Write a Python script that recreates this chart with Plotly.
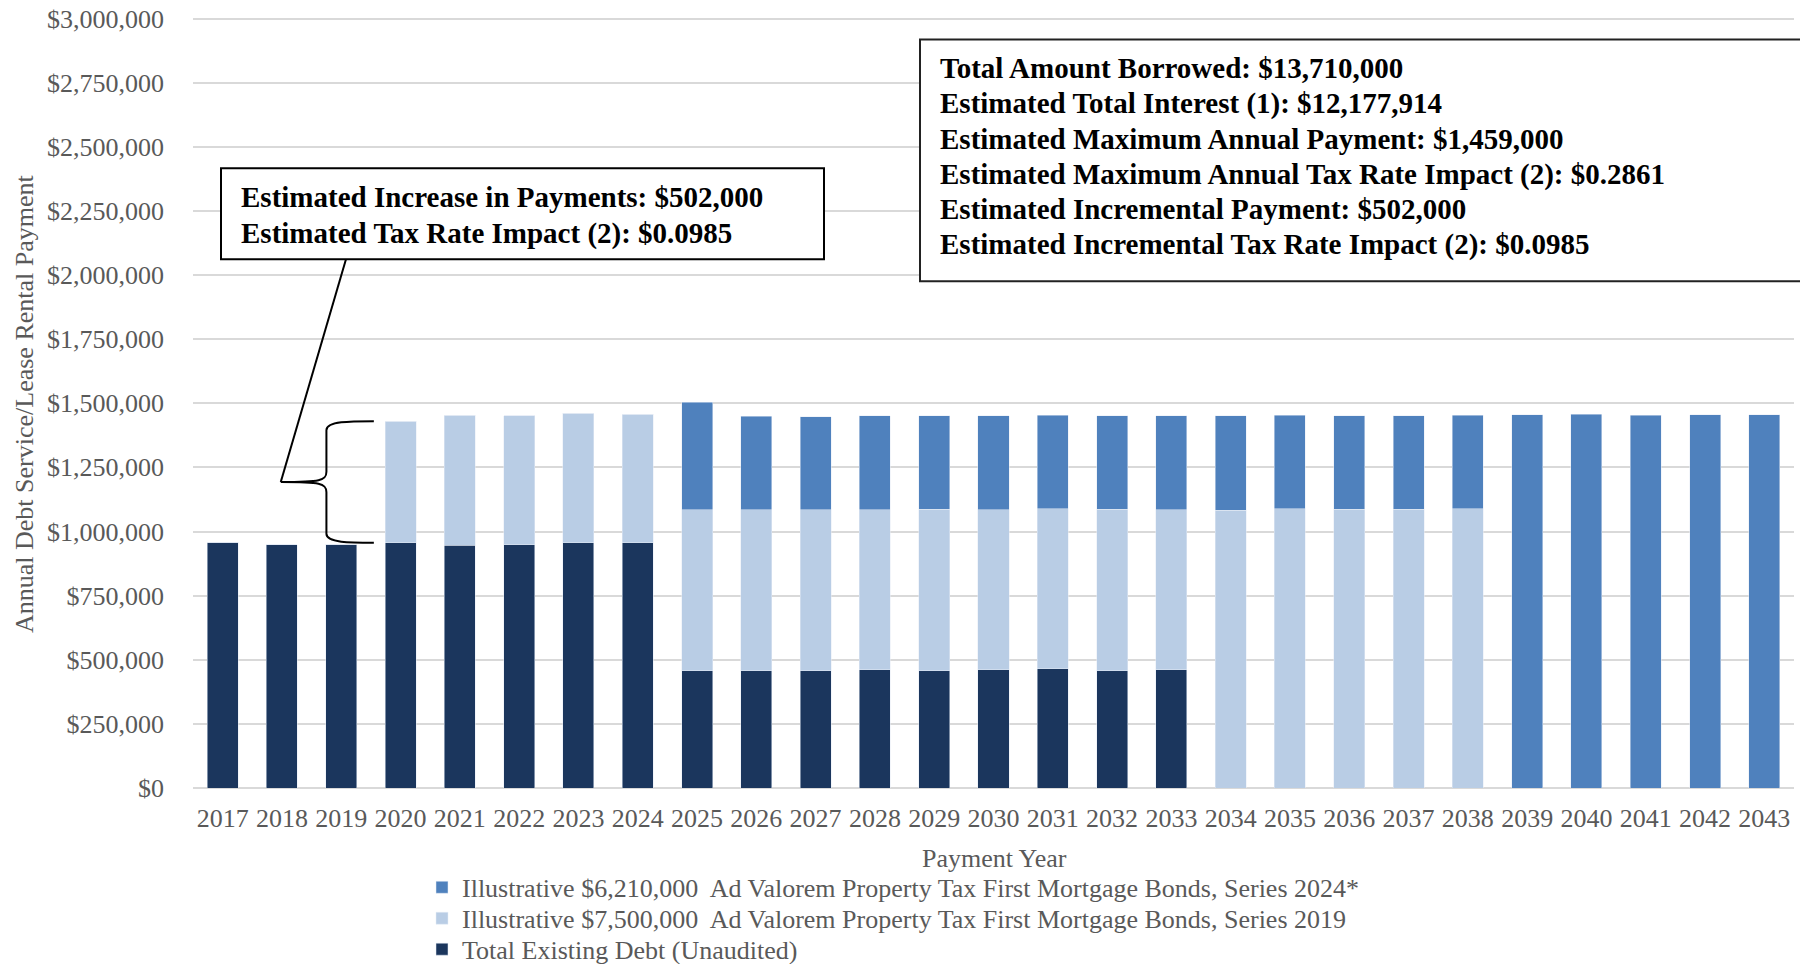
import plotly.graph_objects as go

years = list(range(2017, 2044))
tick_labels = [str(y) for y in years]

existing_debt = [958000, 949000, 950000, 956000, 947000, 948000, 956000, 956000,
                 457000, 457000, 457000, 461000, 458000, 461000, 465000, 458000, 461000,
                 0, 0, 0, 0, 0, 0, 0, 0, 0, 0]
series_2019 = [0, 0, 0, 474000, 507000, 503000, 505000, 501000,
               627000, 628000, 628000, 624000, 628000, 624000, 623000, 628000, 624000,
               1083000, 1088000, 1086000, 1086000, 1088000, 0, 0, 0, 0, 0]
series_2024 = [0, 0, 0, 0, 0, 0, 0, 0,
               420000, 364000, 363000, 366000, 366000, 366000, 365000, 366000, 366000,
               368000, 365000, 366000, 366000, 365000, 1456000, 1457000, 1454000, 1456000, 1456000]

name_existing = "Total Existing Debt (Unaudited)"
name_2019 = "Illustrative $7,500,000  Ad Valorem Property Tax First Mortgage Bonds, Series 2019"
name_2024 = "Illustrative $6,210,000  Ad Valorem Property Tax First Mortgage Bonds, Series 2024*"

left_box_lines = ["Estimated Increase in Payments: $502,000",
                  "Estimated Tax Rate Impact (2): $0.0985"]
right_box_lines = ["Total Amount Borrowed: $13,710,000",
                   "Estimated Total Interest (1): $12,177,914",
                   "Estimated Maximum Annual Payment: $1,459,000",
                   "Estimated Maximum Annual Tax Rate Impact (2): $0.2861",
                   "Estimated Incremental Payment: $502,000",
                   "Estimated Incremental Tax Rate Impact (2): $0.0985"]

C_DARK = "#1B365D"
C_LIGHT = "#B9CDE5"
C_MID = "#4F81BD"
GREY = "#595959"
FONT = "Liberation Serif, Times New Roman, serif"

# page body margin offsets the figure by 8px; work in reference pixel space
OFF = 8
W, H = 1808 - OFF, 964 - OFF
PL, PR, PT, PB = 193, 1794, 16.5, 788.5
YMAX = 3000000
YTOP = YMAX * 1.002


def px(x):
    return (x - PL) / (PR - PL)


def py(y):
    return (PB - y) / (PB - PT)


def ydata(ypix):
    return (PB - ypix) / (PB - PT) * YTOP


fig = go.Figure()
fig.add_trace(go.Bar(x=years, y=existing_debt, name=name_existing, marker_color=C_DARK, legend="legend3"))
fig.add_trace(go.Bar(x=years, y=series_2019, name=name_2019, marker_color=C_LIGHT, legend="legend2"))
fig.add_trace(go.Bar(x=years, y=series_2024, name=name_2024, marker_color=C_MID, legend="legend"))

shapes = []
annotations = []

# left box
shapes.append(dict(type="rect", xref="paper", yref="paper",
                   x0=px(221), x1=px(824), y0=py(168), y1=py(259),
                   line=dict(color="black", width=2), fillcolor="white", layer="above"))
for i, t in enumerate(left_box_lines):
    annotations.append(dict(text="<b>" + t + "</b>", xref="paper", yref="paper",
                            x=px(239), y=py(197 + i * 36), xanchor="left", yanchor="middle",
                            showarrow=False, font=dict(family=FONT, size=29, color="black")))

# right box
shapes.append(dict(type="rect", xref="paper", yref="paper",
                   x0=px(920), x1=px(1830), y0=py(39), y1=py(281),
                   line=dict(color="#222222", width=2), fillcolor="white", layer="above"))
for i, t in enumerate(right_box_lines):
    annotations.append(dict(text="<b>" + t + "</b>", xref="paper", yref="paper",
                            x=px(938), y=py(68 + i * 35.3), xanchor="left", yanchor="middle",
                            showarrow=False, font=dict(family=FONT, size=29, color="black")))

# brace around the 2020 increase
i2020 = years.index(2020)
ybot = existing_debt[i2020]
ytop = existing_debt[i2020] + series_2019[i2020]
ymid = (ytop + ybot) / 2
xe, xv, xc = 2019.55, 2018.75, 2017.98
r1, r2 = 35000, 40000
path = (f"M {xe},{ytop} C {xv + 0.4},{ytop} {xv},{ytop} {xv},{ytop - r1} "
        f"L {xv},{ymid + r2} C {xv},{ymid + 5000} {xv - 0.1},{ymid} {xc},{ymid} "
        f"C {xv - 0.1},{ymid} {xv},{ymid - 5000} {xv},{ymid - r2} "
        f"L {xv},{ybot + r1} C {xv},{ybot} {xv + 0.4},{ybot} {xe},{ybot}")
shapes.append(dict(type="path", xref="x", yref="y", path=path,
                   line=dict(color="black", width=2)))
shapes.append(dict(type="line", xref="x", yref="y", x0=xc, y0=ymid,
                   x1=2019.08, y1=ydata(259), line=dict(color="black", width=2)))

# axis titles
annotations.append(dict(text="Annual Debt Service/Lease Rental Payment", xref="paper", yref="paper",
                        x=px(25), y=py(404), xanchor="center", yanchor="middle", textangle=-90,
                        showarrow=False, font=dict(family=FONT, size=26, color=GREY)))
annotations.append(dict(text="Payment Year", xref="paper", yref="paper",
                        x=px(994), y=py(859), xanchor="center", yanchor="middle",
                        showarrow=False, font=dict(family=FONT, size=26, color=GREY)))


def legend_at(ycenter):
    return dict(orientation="v", x=px(422), y=py(ycenter), xanchor="left", yanchor="middle",
                font=dict(family=FONT, size=26, color=GREY), bgcolor="rgba(0,0,0,0)")


fig.update_layout(
    width=W, height=H,
    barmode="stack", bargap=0.477,
    paper_bgcolor="white", plot_bgcolor="white",
    margin=dict(l=PL - OFF, r=1808 - PR, t=PT - OFF, b=964 - PB, pad=0, autoexpand=False),
    font=dict(family=FONT, size=26, color=GREY),
    showlegend=True,
    legend=legend_at(888),
    legend2=legend_at(919),
    legend3=legend_at(950),
    shapes=shapes, annotations=annotations,
)
fig.update_xaxes(range=[2016.5, 2043.5], tickmode="array", tickvals=years, ticktext=tick_labels,
                 showgrid=False, zeroline=False, showline=False, ticks="", automargin=False,
                 tickfont=dict(family=FONT, size=26, color=GREY), ticklabelstandoff=12)
fig.update_yaxes(range=[0, YTOP], tick0=0, dtick=250000, tickprefix="$", tickformat=",.0f",
                 showgrid=True, gridcolor="#D9D9D9", gridwidth=2, zeroline=True, automargin=False,
                 zerolinecolor="#D9D9D9", zerolinewidth=2, showline=False, ticks="",
                 ticklabeloverflow="allow",
                 tickfont=dict(family=FONT, size=26, color=GREY), ticklabelstandoff=28)

fig.write_html("out.html")
